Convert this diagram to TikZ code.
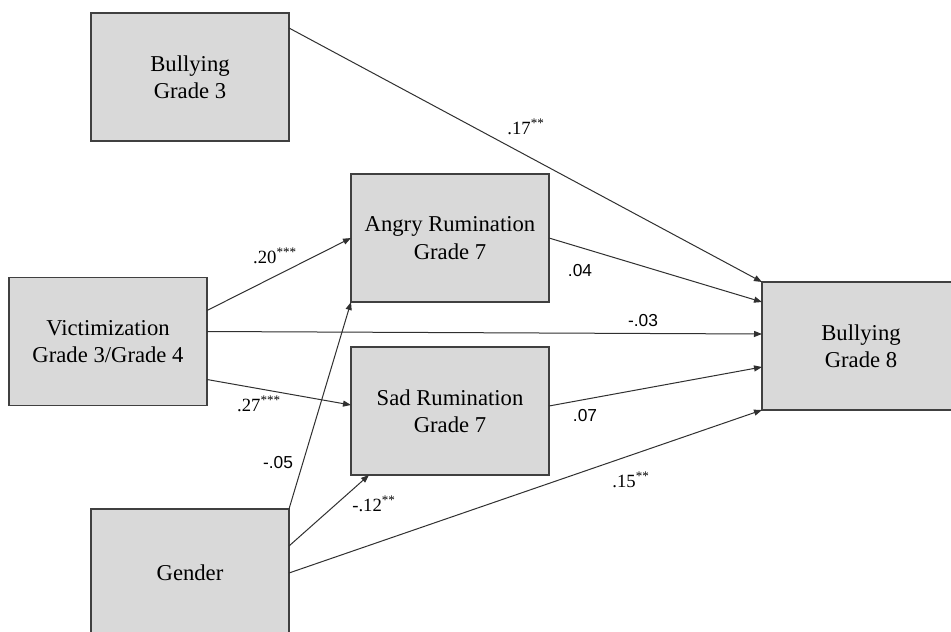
\documentclass[tikz,border=0pt]{standalone}
\usepackage{fontspec}
\setmainfont{Liberation Serif}
\newfontfamily\sansf{Liberation Sans}
\usetikzlibrary{arrows.meta,calc}
\definecolor{boxfill}{HTML}{D9D9D9}
\definecolor{boxline}{HTML}{404040}
\definecolor{arrline}{HTML}{303030}
\begin{document}
\begin{tikzpicture}[x=0.75pt,y=-0.75pt,
  box/.style={draw=boxline,line width=0.9pt,fill=boxfill,inner sep=0pt,outer sep=0pt,
    minimum width={198*0.75pt},minimum height={128*0.75pt},align=center,
    font=\fontsize{17}{20.5}\selectfont},
  path/.style={draw=arrline,line width=0.75pt,-{Triangle[length=6pt,width=4.5pt]}},
  lbls/.style={font=\fontsize{14}{16}\selectfont,inner sep=0pt},
  lbla/.style={font=\sansf\fontsize{13}{15}\selectfont,inner sep=0pt}]
\useasboundingbox (0,0) rectangle (951,632);
\clip (0,0) rectangle (951,632);
\fill[white] (0,0) rectangle (951,632);
\node[box] (b3) at (190,77) {Bullying\\Grade 3};
\node[box] (ang) at (450,238) {Angry Rumination\\Grade 7};
\node[box] (sad) at (450,411) {Sad Rumination\\Grade 7};
\node[box] (vic) at (108,341.5) {Victimization\\Grade 3/Grade 4};
\node[box] (gen) at (190,573) {Gender};
\node[box] (b8) at (861,346) {Bullying\\Grade 8};
% connectors
\draw[path] ($(b3.north east)+(0,15)$) -- (b8.north west);
\draw[path] (ang.east) -- ($(b8.north west)+(0,20)$);
\draw[path] ($(vic.east)+(0,-10)$) -- ($(b8.west)+(0,-12)$);
\draw[path] ($(sad.east)+(0,-5)$) -- ($(b8.west)+(0,21)$);
\draw[path] (gen.east) -- (b8.south west);
\draw[path] ($(vic.east)+(0,-31)$) -- (ang.west);
\draw[path] ($(vic.east)+(0,38)$) -- ($(sad.west)+(0,-6)$);
\draw[path] (gen.north east) -- (ang.south west);
\draw[path] ($(gen.north east)+(0,37)$) -- ($(sad.south west)+(18,0)$);
% labels
\node[lbls] (l17) at (526,127) {.17\textsuperscript{**}};
\node[lbls] (l20) at (275,256) {.20\textsuperscript{***}};
\node[lbls] (l27) at (259,404) {.27\textsuperscript{***}};
\node[lbla] (l04) at (580,271) {.04};
\node[lbla] (l03) at (643,321) {-.03};
\node[lbla] (l07) at (585,416) {.07};
\node[lbla] (l05) at (278,463) {-.05};
\node[lbls] (l12) at (374,504) {-.12\textsuperscript{**}};
\node[lbls] (l15) at (631,480) {.15\textsuperscript{**}};
\end{tikzpicture}
\end{document}
